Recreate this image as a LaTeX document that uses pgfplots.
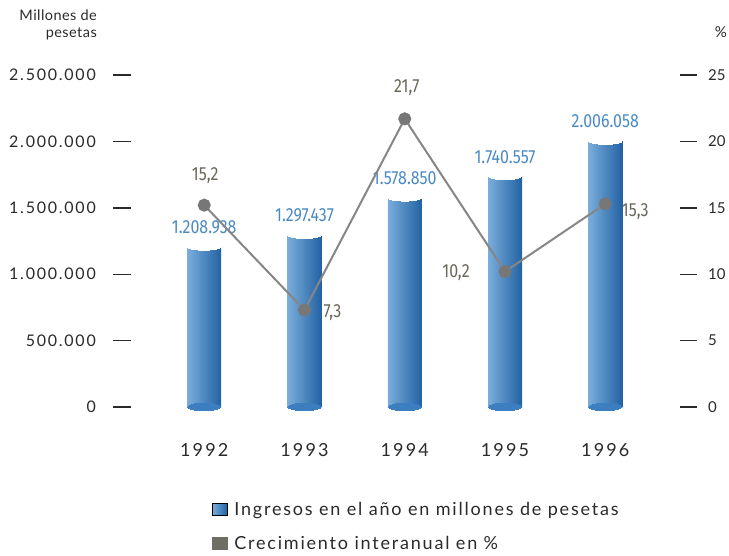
\documentclass[border=0pt]{standalone}
\usepackage{pgfplots}
\usepackage{pgfplotstable}
\pgfplotsset{compat=1.18}
\usepackage{fontspec}
\setmainfont{Lato}
\newfontfamily\cond[FakeStretch=0.84]{Fira Sans}
\newfontfamily\tickf[LetterSpace=11]{Lato}
\newfontfamily\rtickf{Lato}
\newfontfamily\yearf[LetterSpace=12]{Lato}
\newfontfamily\legf[LetterSpace=10]{Lato}
\newfontfamily\unitf[LetterSpace=3]{Lato}

\definecolor{barL}{HTML}{7AADDB}
\definecolor{barM}{HTML}{3C7EBF}
\definecolor{barR}{HTML}{2262A4}
\definecolor{valc}{HTML}{4A8AC2}
\definecolor{linec}{HTML}{868686}
\definecolor{dotc}{HTML}{777777}
\definecolor{lblc}{HTML}{6B665A}
\definecolor{legg}{HTML}{6E6E64}
\definecolor{txt}{HTML}{2A2A2A}

\pgfplotstableread{
x y base lab
0 1208938 0 1.208.938
1 1297437 0 1.297.437
2 1578850 0 1.578.850
3 1740557 0 1.740.557
4 2006058 0 2.006.058
}\bars

\pgfplotstableread{
x y lab dx dy
0 15.2 15,2 1 30
1 7.3 7,3 28 -3
2 21.7 21,7 2 31
3 10.2 10,2 -49 -1
4 15.3 15,3 30 -8
}\growth

\begin{document}
\begin{tikzpicture}
\useasboundingbox (0,0) rectangle (729pt,-555pt);
\begin{axis}[
  at={(122pt,-407pt)}, anchor=south west,
  scale only axis, width=566.5pt, height=332pt,
  xmin=-0.82, xmax=4.83, ymin=0, ymax=2500000,
  clip=false, scaled y ticks=false,
  axis y line*=left, axis x line*=bottom,
  axis line style={draw=none},
  xtick={0,1,2,3,4},
  xticklabels={1992,1993,1994,1995,1996},
  x tick style={draw=none},
  xticklabel style={font=\yearf\fontsize{18}{18}\selectfont, text=txt, anchor=center, yshift=-34pt, inner sep=0pt},
  ytick={0,500000,1000000,1500000,2000000,2500000},
  yticklabels={0,500.000,1.000.000,1.500.000,2.000.000,2.500.000},
  y tick style={txt, line width=1.4pt},
  major tick length=18pt, tick align=center,
  yticklabel style={font=\tickf\fontsize{16}{16}\selectfont, text=txt, anchor=east, inner sep=0pt, xshift=-17pt},
  legend style={at={(0.1585,-0.28)}, anchor=north west, draw=none, fill=none, inner sep=0pt, row sep=15pt, column sep=5pt, font=\legf\fontsize{18}{18}\selectfont, text=txt},
  legend cell align=left,
]
\pgfplotsinvokeforeach{0,1,2,3,4}{
\addplot[ybar, bar width=34pt, draw=none, left color=barL, middle color=barM, right color=barR,
  restrict x to domain=#1:#1,
  nodes near coords, point meta=explicit symbolic,
  nodes near coords style={font=\cond\fontsize{19}{19}\selectfont, text=valc, anchor=center, yshift=19pt},
  forget plot]
  table[x=x, y=y, meta=lab]{\bars};
}
\addlegendimage{legend image code/.code={\shade[left color=barL, middle color=barM, right color=barR] (0pt,-6pt) rectangle (15pt,6pt);}}
\addlegendentry{Ingresos en el año en millones de pesetas}
\addlegendimage{legend image code/.code={\fill[legg] (0pt,-6pt) rectangle (15pt,6pt);}}
\addlegendentry{Crecimiento interanual en \%}
\addplot[only marks, mark=*, mark size=17pt, mark options={fill=white, draw=white, line width=0pt, yscale=0.22}, forget plot]
  table[x=x, y=y]{\bars};
\addplot[only marks, mark=*, mark size=16.5pt, mark options={fill=barM, draw=barM, line width=0pt, yscale=0.22}, forget plot]
  table[x=x, y=base]{\bars};
\end{axis}
\begin{axis}[
  at={(122pt,-407pt)}, anchor=south west,
  scale only axis, width=566.5pt, height=332pt,
  xmin=-0.82, xmax=4.83, ymin=0, ymax=25,
  clip=false,
  axis y line*=right, axis x line=none,
  axis line style={draw=none},
  ytick={0,5,10,15,20,25},
  yticklabels={0,5,10,15,20,25},
  y tick style={txt, line width=1.4pt},
  major tick length=17pt, tick align=center,
  yticklabel style={font=\rtickf\fontsize{15}{15}\selectfont, text=txt, anchor=west, inner sep=0pt, xshift=11pt},
]
\addplot[linec, line width=2pt, mark=*, mark size=5.5pt, mark options={fill=dotc, draw=dotc},
  nodes near coords, point meta=explicit symbolic,
  visualization depends on={\thisrow{dx}\as\dx},
  visualization depends on={\thisrow{dy}\as\dy},
  nodes near coords style={font=\cond\fontsize{19}{19}\selectfont, text=lblc, anchor=center, xshift=\dx, yshift=\dy}]
  table[x=x, y=y, meta=lab]{\growth};
\end{axis}
\node[anchor=east, align=right, inner sep=0pt, text=txt, font=\unitf\fontsize{14.5}{16.5}\selectfont] at (97pt,-25pt) {Millones de\\pesetas};
\node[anchor=center, inner sep=0pt, text=txt, font=\fontsize{15}{15}\selectfont] at (721pt,-32pt) {\%};
\end{tikzpicture}
\end{document}
